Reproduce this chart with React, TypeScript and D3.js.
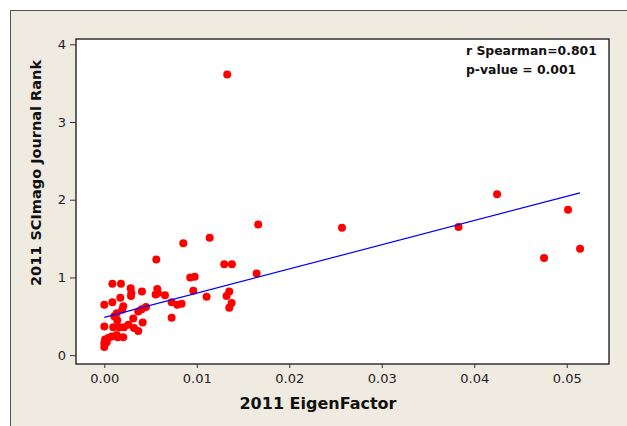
import { useEffect, useRef } from "react";
import * as d3 from "d3";

// 2011 EigenFactor vs 2011 SCImago Journal Rank
const eigenFactor = [
  0.01329, 0.01664, 0.0257, 0.0383, 0.04247, 0.05014, 0.04755, 0.05144,
  0.01647, 0.01139, 0.00854, 0.00562, 0.01297, 0.0138, 0.00929, 0.00977,
  0.00087, 0.0018, 0.00285, 0.00292, 0.00407, 0.00573, 0.00555, 0.0058,
  0.00962, 0.00173, 0.00289, 0.00087, 0.0, 0.00656, 0.00728, 0.00789,
  0.00836, 0.01106, 0.01322, 0.01351, 0.01351, 0.01377, 0.00728, 0.00451,
  0.00404, 0.00367, 0.00205, 0.00194, 0.00134, 0.00108, 0.0014, 0.00313,
  0.00415, 0.0026, 0.0, 0.00097, 0.00162, 0.00213, 0.00321, 0.00367,
  0.0008, 0.00145, 0.00205, 0.00134, 0.00043, 0.00008, 0.00026, 0.0, 0.0,
];
const sjr = [
  3.61, 1.68, 1.64, 1.65, 2.07, 1.87, 1.25, 1.37,
  1.05, 1.51, 1.44, 1.23, 1.17, 1.17, 1.0, 1.01,
  0.92, 0.92, 0.86, 0.8, 0.82, 0.85, 0.78, 0.8,
  0.83, 0.74, 0.76, 0.68, 0.65, 0.77, 0.68, 0.65,
  0.66, 0.75, 0.76, 0.82, 0.61, 0.67, 0.48, 0.62,
  0.59, 0.56, 0.63, 0.585, 0.54, 0.5, 0.45, 0.47,
  0.42, 0.39, 0.37, 0.36, 0.36, 0.36, 0.35, 0.31,
  0.24, 0.23, 0.23, 0.26, 0.22, 0.2, 0.165, 0.157, 0.105,
];

// fitted line shown in the chart
const fitIntercept = 0.486;
const fitSlope = 31.15;

const xTicks = [0, 0.01, 0.02, 0.03, 0.04, 0.05];
const yTicks = [0, 1, 2, 3, 4];
const statLines = ["r Spearman=0.801", "p-value = 0.001"];

export default function App() {
  const width = 627;
  const height = 426;
  const plot = { left: 76, right: 609, top: 39, bottom: 364 };
  const svgRef = useRef<SVGSVGElement | null>(null);

  useEffect(() => {
    if (!svgRef.current) return;
    const svg = d3.select(svgRef.current);
    svg.selectAll("*").remove();

    const x = d3.scaleLinear().domain([-0.00306, 0.05457]).range([plot.left, plot.right]);
    const y = d3.scaleLinear().domain([-0.114, 4.068]).range([plot.bottom, plot.top]);

    // outer panel
    svg.append("rect").attr("width", width).attr("height", height).attr("fill", "#fff");
    svg
      .append("rect")
      .attr("x", 10.5)
      .attr("y", 10.5)
      .attr("width", width + 10)
      .attr("height", height + 10)
      .attr("fill", "#efebe1")
      .attr("stroke", "#555")
      .attr("stroke-width", 1);

    // plot area
    svg
      .append("rect")
      .attr("x", plot.left)
      .attr("y", plot.top)
      .attr("width", plot.right - plot.left)
      .attr("height", plot.bottom - plot.top)
      .attr("fill", "#fff")
      .attr("stroke", "#000")
      .attr("stroke-width", 1.2);

    const font = "'DejaVu Sans', Verdana, sans-serif";

    const xAxis = d3
      .axisBottom(x)
      .tickValues(xTicks)
      .tickSize(4)
      .tickPadding(6)
      .tickFormat((d) => d3.format(".2f")(d as number));
    const gx = svg
      .append<SVGGElement>("g")
      .attr("transform", `translate(0,${plot.bottom})`)
      .call(xAxis);
    gx.select(".domain").remove();
    gx.selectAll("line").attr("stroke", "#333");
    gx.selectAll("text")
      .attr("font-family", font)
      .attr("font-size", 13)
      .attr("fill", "#222");

    const yAxis = d3
      .axisLeft(y)
      .tickValues(yTicks)
      .tickSize(6)
      .tickPadding(4)
      .tickFormat((d) => d3.format("d")(d as number));
    const gy = svg
      .append<SVGGElement>("g")
      .attr("transform", `translate(${plot.left},0)`)
      .call(yAxis);
    gy.select(".domain").remove();
    gy.selectAll("line").attr("stroke", "#333");
    gy.selectAll("text")
      .attr("font-family", font)
      .attr("font-size", 13)
      .attr("fill", "#222");

    // axis titles
    svg
      .append("text")
      .attr("x", 318)
      .attr("y", 409)
      .attr("text-anchor", "middle")
      .attr("font-family", font)
      .attr("font-weight", "bold")
      .attr("font-size", 16)
      .attr("fill", "#111")
      .text("2011 EigenFactor");
    svg
      .append("text")
      .attr("transform", `translate(41,173) rotate(-90)`)
      .attr("text-anchor", "middle")
      .attr("font-family", font)
      .attr("font-weight", "bold")
      .attr("font-size", 14.5)
      .attr("fill", "#111")
      .text("2011 SCImago Journal Rank");

    // points
    const data = eigenFactor.map((e, i) => ({ e, s: sjr[i] }));
    svg
      .append("g")
      .selectAll("circle")
      .data(data)
      .enter()
      .append("circle")
      .attr("cx", (d) => x(d.e))
      .attr("cy", (d) => y(d.s))
      .attr("r", 4)
      .attr("fill", "#ff0000");

    // regression line
    const [x0, x1] = d3.extent(eigenFactor) as [number, number];
    svg
      .append("line")
      .attr("x1", x(x0))
      .attr("y1", y(fitIntercept + fitSlope * x0))
      .attr("x2", x(x1))
      .attr("y2", y(fitIntercept + fitSlope * x1))
      .attr("stroke", "#0000ff")
      .attr("stroke-width", 1.2);

    // stats
    svg
      .append("g")
      .selectAll("text")
      .data(statLines)
      .enter()
      .append("text")
      .attr("x", 466)
      .attr("y", (_, i) => 55 + i * 19)
      .attr("font-family", font)
      .attr("font-weight", "bold")
      .attr("font-size", 12.4)
      .attr("fill", "#111")
      .text((d) => d);
  }, []);

  return (
    <svg
      ref={svgRef}
      width={width}
      height={height}
      style={{ position: "absolute", left: 0, top: 0 }}
    />
  );
}
